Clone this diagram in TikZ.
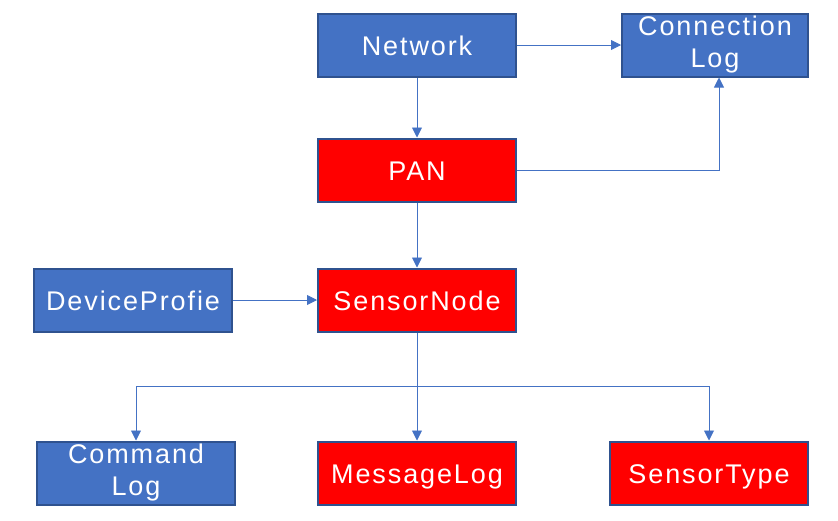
\documentclass[tikz,border=0pt]{standalone}
\usepackage{fontspec}
\setmainfont{Liberation Sans}[LetterSpace=7]
\usetikzlibrary{positioning,arrows.meta}

\definecolor{boxblue}{HTML}{4472C4}
\definecolor{boxline}{HTML}{2F528F}
\definecolor{boxred}{HTML}{FF0000}

\begin{document}
\begin{tikzpicture}[x=1pt,y=-1pt,on grid,
   box/.style={draw=boxline,line width=2pt,minimum width=198pt,minimum height=63pt,
      text=white,align=center,font=\fontsize{27}{32}\selectfont,inner sep=0pt},
   oneline/.style={text height=25pt,text depth=4pt},
   bluebox/.style={box,fill=boxblue},
   redbox/.style={box,fill=boxred},
   link/.style={draw=boxblue,line width=0.9pt,-{Triangle[length=10pt,width=10pt]}}]
   \useasboundingbox (0,0) rectangle (838,520);
   \node[bluebox,oneline] (net) at (417,45) {Network};
   \node[bluebox,minimum width=186pt] (clog) [right=298pt of net] {Connection\\Log};
   \node[redbox,oneline] (pan) [below=125pt of net] {PAN};
   \node[redbox,oneline] (sn) [below=130pt of pan] {SensorNode};
   \node[bluebox,oneline] (dev) [left=284pt of sn] {DeviceProfie};
   \node[redbox,oneline] (msg) [below=173pt of sn] {MessageLog};
   \node[bluebox] (cmd) [left=281pt of msg] {Command\\Log};
   \node[redbox,oneline] (type) [right=292pt of msg] {SensorType};
   \coordinate (bus) at (417,386);
   \path[link] (net) -- (clog);
   \path[link] (net) -- (pan);
   \path[link] (pan.east) -| ([xshift=4pt]clog.south);
   \path[link] (pan) -- (sn);
   \path[link] (dev) -- (sn);
   \path[link] (sn.south) -- (bus) -| (cmd.north);
   \path[link] (bus) -- (msg.north);
   \path[link] (bus) -| (type.north);
\end{tikzpicture}
\end{document}
